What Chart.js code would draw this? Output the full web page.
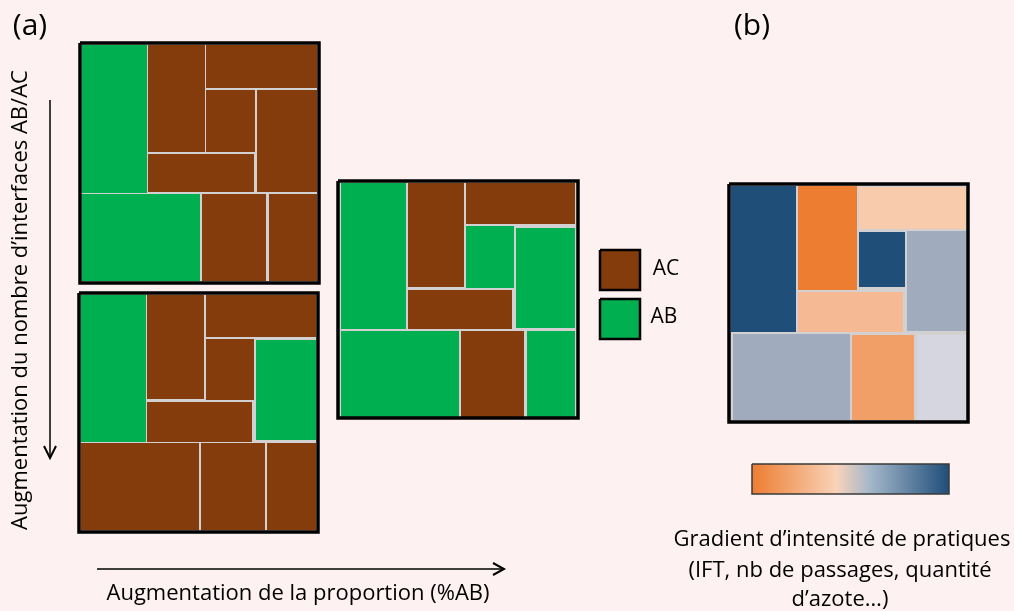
<!DOCTYPE html>
<html>
<head>
<meta charset="utf-8">
<script src="https://cdn.jsdelivr.net/npm/chart.js@4.4.1/dist/chart.umd.min.js"></script>
<style>
  html, body { margin: 0; padding: 0; background: #fdf1f1; }
  canvas { display: block; }
</style>
</head>
<body>
<canvas id="schema" width="1014" height="611"></canvas>
<script>
// page space used by both axes (pixels of the original figure)
const X_MAX = 1014;
const Y_MAX = 611;

// outer frames of the four plots: [x0, y0, x1, y1]
const frames = [
    [80, 43, 319, 283],
    [79, 293, 318, 532],
    [338, 181, 578, 418],
    [729, 184, 968, 422]
];

// plots of panel (a): [x0, y0, x1, y1, crop]
const plotTop = [
    [82, 45, 147, 193, 'AB'],
    [148, 45, 205, 152, 'AC'],
    [206, 45, 317, 88, 'AC'],
    [206, 90, 255, 152, 'AC'],
    [257, 90, 317, 192, 'AC'],
    [148, 154, 254, 192, 'AC'],
    [82, 194, 200, 281, 'AB'],
    [202, 194, 266, 281, 'AC'],
    [269, 194, 317, 281, 'AC']
];
const plotBottom = [
    [81, 295, 146, 442, 'AB'],
    [147, 295, 204, 399, 'AC'],
    [206, 295, 316, 337, 'AC'],
    [206, 339, 254, 400, 'AC'],
    [256, 340, 316, 440, 'AB'],
    [147, 402, 252, 442, 'AC'],
    [81, 443, 199, 530, 'AC'],
    [201, 443, 265, 530, 'AC'],
    [267, 443, 316, 530, 'AC']
];
const plotMiddle = [
    [341, 183, 406, 329, 'AB'],
    [408, 183, 464, 287, 'AC'],
    [466, 183, 575, 224, 'AC'],
    [466, 226, 514, 288, 'AB'],
    [516, 228, 575, 328, 'AB'],
    [408, 290, 512, 329, 'AC'],
    [341, 331, 459, 417, 'AB'],
    [461, 331, 524, 417, 'AC'],
    [527, 331, 575, 417, 'AB']
];
// panel (b): intensity level of each plot
const plotIntensity = [
    [731, 186, 796, 332, 'i7'],
    [798, 186, 857, 290, 'i1'],
    [859, 187, 966, 229, 'i4'],
    [859, 232, 905, 287, 'i7'],
    [907, 231, 966, 331, 'i6'],
    [798, 292, 903, 332, 'i3'],
    [733, 334, 850, 420, 'i6'],
    [852, 335, 914, 420, 'i2'],
    [917, 335, 966, 420, 'i5']
];

// legend boxes
const legendBoxes = [
    [600, 250, 640, 290, 'AC'],
    [600, 299, 640, 339, 'AB']
];

// colour bar
const gradientBar = [752, 464, 949, 494];
const gradientStops = [[0, '#ed7d31'], [0.43, '#f8d3b9'], [0.6, '#a4b7ca'], [1, '#1f4e79']];

const colours = {
    AC: '#843c0c',
    AB: '#00b050',
    i1: '#ed7d31',
    i2: '#f19e67',
    i3: '#f5b994',
    i4: '#f8cbad',
    i5: '#d6d6e0',
    i6: '#a0acbd',
    i7: '#1f4e79'
};

// arrows: shaft and head polylines
const arrowDown = [[50, 100], [50, 457]];
const arrowDownHead = [[44, 446], [50, 458], [56, 446]];
const arrowRight = [[97, 569], [503, 569]];
const arrowRightHead = [[493, 563], [504, 569], [493, 575]];

const texts = [
    { text: '(a)', x: 30, y: 26, size: 30 },
    { text: '(b)', x: 752, y: 26, size: 30 },
    { text: 'AC', x: 666, y: 269, size: 21 },
    { text: 'AB', x: 664, y: 317, size: 21 },
    { text: 'Augmentation du nombre d’interfaces AB/AC', x: 21, y: 300, size: 22, rotate: true },
    { text: 'Augmentation de la proportion (%AB)', x: 298, y: 594, size: 22 },
    { text: 'Gradient d’intensité de pratiques', x: 842, y: 540, size: 22 },
    { text: '(IFT, nb de passages, quantité', x: 840, y: 571, size: 22 },
    { text: 'd’azote…)', x: 840, y: 600, size: 22 }
];

function rectPoints(r) {
    return [
        { x: r[0], y: r[1] }, { x: r[2], y: r[1] },
        { x: r[2], y: r[3] }, { x: r[0], y: r[3] }, { x: r[0], y: r[1] }
    ];
}

function filled(r, colour, order) {
    return {
        data: rectPoints(r), fill: 'shape', backgroundColor: colour,
        borderColor: 'rgba(0,0,0,0)', borderWidth: 1, pointRadius: 0, order: order
    };
}

function outline(points, width, order) {
    return {
        data: points.map(p => ({ x: p[0], y: p[1] })), fill: false,
        borderColor: '#000000', borderWidth: width, pointRadius: 0,
        borderJoinStyle: 'miter', order: order
    };
}

let datasets = [];
frames.forEach(f => datasets.push(filled(f, '#d2d0d0', 5)));
[plotTop, plotBottom, plotMiddle, plotIntensity].forEach(plot => {
    plot.forEach(cell => datasets.push(filled(cell, colours[cell[4]], 3)));
});
frames.forEach(f => datasets.push(outline(rectPoints(f).map(p => [p.x, p.y]), 3.5, 1)));
legendBoxes.forEach(b => {
    datasets.push(filled(b, colours[b[4]], 3));
    datasets.push(outline(rectPoints(b).map(p => [p.x, p.y]), 2.5, 1));
});

datasets.push({
    data: rectPoints(gradientBar), fill: 'shape', pointRadius: 0, order: 3,
    borderColor: '#3a3a3a', borderWidth: 1.5, borderJoinStyle: 'miter',
    backgroundColor: function (ctx) {
        const chart = ctx.chart;
        const xs = chart.scales.x;
        const x0 = xs ? xs.getPixelForValue(gradientBar[0]) : NaN;
        const x1 = xs ? xs.getPixelForValue(gradientBar[2]) : NaN;
        if (!isFinite(x0) || !isFinite(x1)) return gradientStops[0][1];
        const g = chart.ctx.createLinearGradient(x0, 0, x1, 0);
        gradientStops.forEach(s => g.addColorStop(s[0], s[1]));
        return g;
    }
});

datasets.push(outline(arrowDown, 1.5, 1));
datasets.push(outline(arrowDownHead, 2, 1));
datasets.push(outline(arrowRight, 1.5, 1));
datasets.push(outline(arrowRightHead, 2, 1));

const textPlugin = {
    id: 'texts',
    afterDatasetsDraw(chart) {
        const ctx = chart.ctx;
        const xs = chart.scales.x, ys = chart.scales.y;
        texts.forEach(t => {
            ctx.save();
            ctx.fillStyle = '#000000';
            ctx.font = t.size + 'px "Open Sans"';
            ctx.textAlign = 'center';
            ctx.textBaseline = 'middle';
            ctx.translate(xs.getPixelForValue(t.x), ys.getPixelForValue(t.y));
            if (t.rotate) ctx.rotate(-Math.PI / 2);
            ctx.fillText(t.text, 0, 0);
            ctx.restore();
        });
    }
};

new Chart(document.getElementById('schema'), {
    type: 'line',
    data: { datasets: datasets },
    options: {
        responsive: false,
        animation: false,
        layout: { padding: 0 },
        elements: { line: { tension: 0 } },
        plugins: { legend: { display: false }, tooltip: { enabled: false } },
        scales: {
            x: { type: 'linear', min: 0, max: X_MAX, display: false },
            y: { type: 'linear', min: 0, max: Y_MAX, reverse: true, display: false }
        }
    },
    plugins: [textPlugin]
});
</script>
</body>
</html>
